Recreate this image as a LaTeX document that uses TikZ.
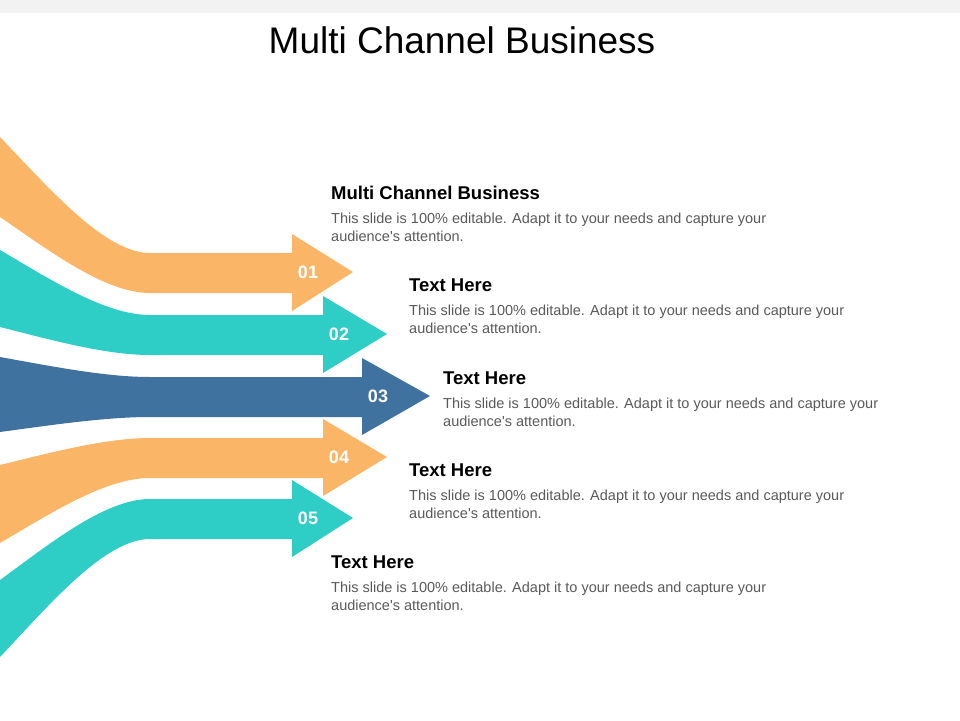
\documentclass[tikz,border=0pt]{standalone}
\usepackage{fontspec}
\setmainfont{Liberation Sans}
\definecolor{chorange}{HTML}{FAB666}
\definecolor{chteal}{HTML}{2ECDC5}
\definecolor{chblue}{HTML}{40729F}
\definecolor{bodygray}{HTML}{595959}
\tikzset{
  numlabel/.style={text=white, inner sep=0pt, font=\fontsize{18}{18}\selectfont\bfseries},
  headtext/.style={anchor=base west, inner sep=0pt, font=\fontsize{18.5}{20}\selectfont\bfseries},
  bodytext/.style={anchor=base west, inner sep=0pt, text=bodygray, font=\fontsize{14.5}{18}\selectfont},
}

\begin{document}
\begin{tikzpicture}[x=1pt, y=-1pt]
    \useasboundingbox (0,0) rectangle (960,720);
    \fill[black!5] (0,0) rectangle (960,13);

    \node[anchor=base, inner sep=0pt, font=\fontsize{37}{40}\selectfont] (title) at (462,53) {Multi Channel Business};

    % Pfeile
    \foreach \col/\lt/\lb/\c/\hx/\hl/\num in {chorange/137/217/273/292/61/01, chteal/250/327/335/323/64/02, chblue/357/432/397/362/68/03, chorange/465/543/458/323/64/04, chteal/580/657/519/292/61/05} {
        \fill[\col] (0,\lt) .. controls (50,{\lt+0.45*(\c-20-\lt)}) and (105,\c-20) .. (150,\c-20)
            -- (\hx,\c-20) -- (\hx,\c-39) -- (\hx+\hl,\c-1) -- (\hx,\c+38) -- (\hx,\c+20) -- (150,\c+20)
            .. controls (105,\c+20) and (50,{\lb+0.45*(\c+20-\lb)}) .. (0,\lb) -- cycle;
        \node[numlabel] (n\num) at (\hx+16,\c-1) {\num};
    }

    % Texte
    \foreach \x/\y/\head [count=\i] in {331/199/Multi Channel Business, 409/291/Text Here, 443/384/Text Here, 409/476/Text Here, 331/568/Text Here} {
        \node[headtext] (head\i) at (\x,\y) {\head};
        \node[bodytext] (bodya\i) at (\x,\y+24) {This slide is 100\% editable.  Adapt it to your needs and capture your};
        \node[bodytext] (bodyb\i) at (\x,\y+42) {audience\textquotesingle s attention.};
    }
\end{tikzpicture}
\end{document}
